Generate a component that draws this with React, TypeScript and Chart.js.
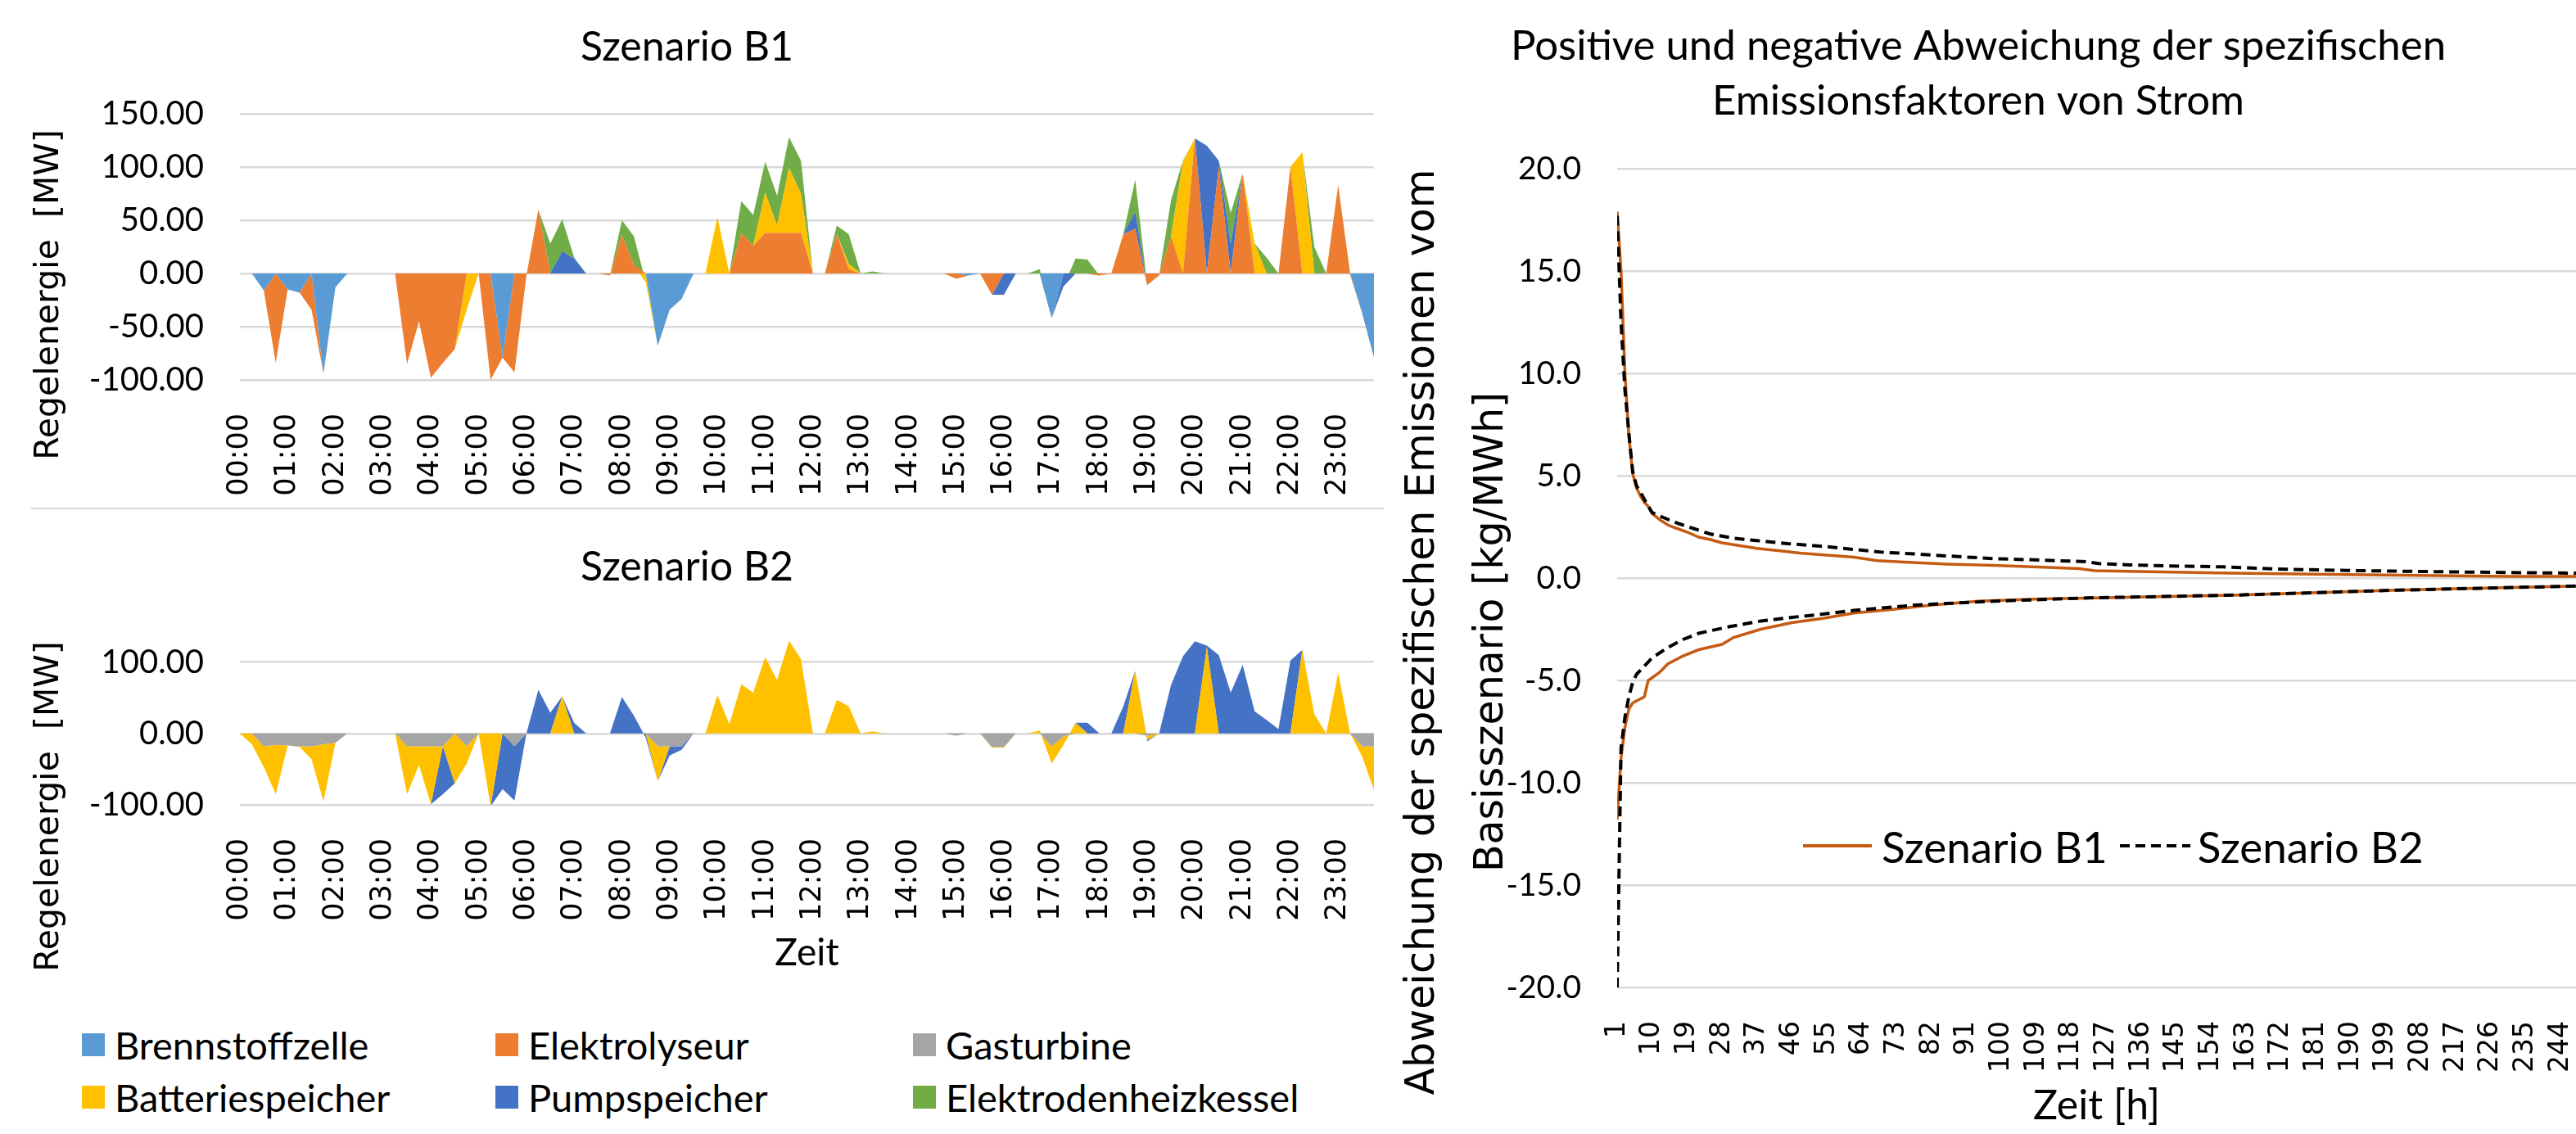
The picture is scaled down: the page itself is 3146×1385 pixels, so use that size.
import React, { useEffect, useRef } from 'react';
import { Chart, registerables } from 'chart.js';

Chart.register(...registerables);

const SANS = 'Lato, "Open Sans", Arial, sans-serif';
const WIDE = '"DejaVu Sans", Verdana, sans-serif';

// ---------- categories / ticks ----------
const timeLabels: string[] = Array.from({ length: 96 }, (_, i) =>
  `${String(Math.floor(i / 4)).padStart(2, '0')}:${String((i % 4) * 15).padStart(2, '0')}`
);
const b1YTicks = [-100, -50, 0, 50, 100, 150];
const b2YTicks = [-100, 0, 100];
const rightYTicks = [-20, -15, -10, -5, 0, 5, 10, 15, 20];
const rightXTicks = [1, 10, 19, 28, 37, 46, 55, 64, 73, 82, 91, 100, 109, 118, 127, 136, 145, 154, 163, 172, 181, 190, 199, 208, 217, 226, 235, 244];

// ---------- series names / colours ----------
const seriesNames = ['Brennstoffzelle', 'Elektrolyseur', 'Gasturbine', 'Batteriespeicher', 'Pumpspeicher', 'Elektrodenheizkessel'];
const seriesColors = ['#5B9BD5', '#ED7D31', '#A5A5A5', '#FFC000', '#4472C4', '#70AD47'];

// ---------- Szenario B1 (MW, 15-min steps) ----------
const b1Brennstoffzelle = [
  0, 0, -16, 0, -15, -18, 0, -94, -13, 0, 0, 0,
  0, 0, 0, 0, 0, 0, 0, 0, 0, 0, -79, 0,
  0, 0, 0, 0, 0, 0, 0, 0, 0, 0, 0, -68,
  -34, -24, 0, 0, 0, 0, 0, 0, 0, 0, 0, 0,
  0, 0, 0, 0, 0, 0, 0, 0, 0, 0, 0, 0,
  0, -2, 0, 0, 0, 0, 0, 0, -42, 0, 0, 0,
  0, 0, 0, 0, 0, 0, 0, 0, 0, 0, 0, 0,
  0, 0, 0, 0, 0, 0, 0, 0, 0, 0, -37, -79,
];
const b1Elektrolyseur = [
  0, 0, 0, -84, 0, 0, -34, 0, 0, 0, 0, 0,
  0, 0, -85, -45, -98, -84, -71, 0, 0, -100, 0, -93,
  -2, 60, 0, 0, 0, 0, 0, -2, 36, 8, 0, 0,
  0, 0, 0, 0, 0, 0, 38, 26, 38, 38, 38, 38,
  0, 0, 37, 4, 0, 0, 0, 0, 0, 0, 0, 0,
  -5, 0, 0, -20, 0, 0, 0, 0, 0, 0, 0, 0,
  -2, 0, 37, 42, -11, -2, 35, 0, 127, 0, 100, 0,
  94, 0, 0, 0, 100, 0, 0, 0, 83, 0, 0, 0,
];
const b1Gasturbine = [
  0, 0, 0, 0, 0, 0, 0, 0, 0, 0, 0, 0,
  0, 0, 0, 0, 0, 0, 0, 0, 0, 0, 0, 0,
  0, 0, 0, 0, 0, 0, 0, 0, 0, 0, 0, 0,
  0, 0, 0, 0, 0, 0, 0, 0, 0, 0, 0, 0,
  0, 0, 0, 0, 0, 0, 0, 0, 0, 0, 0, 0,
  0, 0, 0, 0, 0, 0, 0, 0, 0, 0, 0, 0,
  0, 0, 0, 0, 0, 0, 0, 0, 0, 0, 0, 0,
  0, 0, 0, 0, 0, 0, 0, 0, 0, 0, 0, 0,
];
const b1Batteriespeicher = [
  0, 0, 0, 0, 0, 0, 0, 0, 0, 0, 0, 0,
  0, 0, 0, 0, 0, 0, 0, -34, 0, 0, 0, 0,
  0, 0, 0, 0, 0, 0, 0, 0, 0, 0, -8, 0,
  0, 0, 0, 0, 53, 0, 0, 0, 38, 7, 61, 37,
  0, 0, 0, 5, 0, 0, 0, 0, 0, 0, 0, 0,
  0, 0, 0, 0, 0, 0, 0, 0, 0, 0, 0, 0,
  0, 0, 0, 0, 0, 0, 0, 105, 0, 0, 0, 0,
  0, 28, 0, 0, 0, 114, 0, 0, 0, -2, 0, 0,
];
const b1Pumpspeicher = [
  0, 0, 0, 0, 0, 0, 0, 0, 0, 0, 0, 0,
  0, 0, 0, 0, 0, 0, 0, 0, 0, 0, 0, 0,
  0, 0, 0, 21, 14, 0, 0, 0, 0, 0, 0, 0,
  0, 0, 0, 0, 0, 0, 0, 0, 0, 0, 0, 0,
  0, 0, 0, 0, 0, 0, 0, 0, 0, 0, 0, 0,
  0, 0, 0, 0, -20, 0, 0, 0, 0, -12, 0, 0,
  0, 0, 0, 16, 0, 0, 0, 0, 0, 120, 6, 28,
  0, 0, 0, 0, 0, 0, 0, 0, 0, 0, 0, 0,
];
const b1Elektrodenheizkessel = [
  0, 0, 0, 0, 0, 0, 0, 0, 0, 0, 0, 0,
  0, 0, 0, 0, 0, 0, 0, 0, 0, 0, 0, 0,
  0, 0, 28, 30, 1, 0, 0, 0, 14, 27, 0, 0,
  0, 0, 0, 0, 0, 0, 30, 29, 29, 28, 29, 31,
  0, 0, 8, 28, 0, 2, 0, 0, 0, 0, 0, 0,
  0, 0, 0, 0, 0, 0, 0, 4, 0, 0, 14, 13,
  0, 0, 0, 30, 0, 0, 34, 1, 0, 0, 0, 29,
  0, 0, 15, 0, 0, 0, 25, 0, 0, 0, 0, 0,
];

// ---------- Szenario B2 (MW, 15-min steps) ----------
const b2Gasturbine = [
  0, 0, -18, -16, -17, -18, -18, -15, -13, 0, 0, 0,
  0, 0, -18, -18, -18, -18, 0, -18, 0, 0, 0, -18,
  0, 0, 0, 0, 0, 0, 0, 0, 0, 0, 0, -18,
  -18, -18, 0, 0, 0, 0, 0, 0, 0, 0, 0, 0,
  0, 0, 0, 0, 0, 0, 0, 0, 0, 0, 0, 0,
  -3, 0, 0, -19, -19, 0, 0, 0, -18, -4, 0, 0,
  0, 0, 0, 0, -3, 0, 0, 0, 0, 0, 0, 0,
  0, 0, 0, 0, 0, 0, 0, 0, 0, 0, -18, -18,
];
const b2Batteriespeicher = [
  0, -15, -29, -69, 0, -1, -18, -80, 0, 0, 0, 0,
  0, 0, -67, -26, -81, 0, -70, -24, 0, -102, 0, 0,
  0, 0, 0, 52, 0, 0, 0, 0, 0, 0, 0, -49,
  0, 0, 0, 0, 54, 13, 69, 57, 107, 75, 130, 104,
  0, 0, 47, 38, 0, 3, 0, 0, 0, 0, 0, 0,
  0, 0, 0, -1, -1, 0, 0, 4, -24, -12, 15, 0,
  0, 0, 0, 88, -6, 0, 0, 0, 0, 121, 0, 0,
  0, 0, 0, 0, 0, 117, 27, 0, 85, 0, -14, -61,
];
const b2Pumpspeicher = [
  0, 0, 0, 0, 0, 0, 0, 0, 0, 0, 0, 0,
  0, 0, 0, 0, 0, -67, 0, 0, 0, 0, -78, -76,
  0, 61, 29, 0, 15, 0, 0, 0, 51, 25, -6, 0,
  -13, -5, 0, 0, 0, 0, 0, 0, 0, 0, 0, 0,
  0, 0, 0, 0, 0, 0, 0, 0, 0, 0, 0, 0,
  0, 0, 0, 0, 0, 0, 0, 0, 0, 0, 0, 15,
  0, 0, 38, 0, -2, 0, 68, 108, 129, 2, 110, 57,
  96, 31, 19, 6, 102, 0, 0, 0, 0, 0, 0, 0,
];

// ---------- right chart: sorted deviations (kg/MWh) ----------
const b1PosHours = [1, 2, 3, 4, 5, 6, 7, 8, 9, 10, 12, 14, 16, 19, 22, 25, 28, 32, 37, 43, 48, 55, 62, 68, 75, 86, 98, 112, 120, 124, 138, 159, 189, 231, 248];
const b1PosValues = [17.9, 15.0, 10.0, 7.0, 5.1, 4.4, 4.0, 3.7, 3.5, 3.15, 2.85, 2.6, 2.45, 2.25, 2.0, 1.88, 1.72, 1.6, 1.45, 1.33, 1.22, 1.12, 1.02, 0.85, 0.78, 0.68, 0.62, 0.52, 0.46, 0.36, 0.31, 0.24, 0.17, 0.08, 0.08];
const b2PosHours = [1, 2, 3, 4, 5, 6, 7, 8, 10, 13, 17, 21, 25, 31, 37, 45, 54, 62, 70, 78, 86, 98, 110, 122, 125, 133, 143, 157, 171, 189, 208, 231, 248];
const b2PosValues = [17.7, 12.5, 9.2, 7.1, 5.2, 4.5, 4.2, 3.85, 3.2, 2.95, 2.65, 2.4, 2.15, 1.95, 1.83, 1.68, 1.55, 1.4, 1.25, 1.18, 1.08, 0.95, 0.88, 0.8, 0.71, 0.64, 0.59, 0.55, 0.44, 0.37, 0.32, 0.27, 0.24];
const b1NegHours = [1, 2, 3, 4, 5, 6, 8, 9, 10, 12, 14, 18, 22, 28, 31, 38, 46, 54, 62, 72, 82, 94, 110, 122, 161, 202, 248];
const b1NegValues = [-11.8, -8.8, -7.3, -6.4, -6.1, -6.0, -5.8, -5.0, -4.87, -4.6, -4.2, -3.8, -3.5, -3.24, -2.9, -2.5, -2.18, -1.97, -1.71, -1.53, -1.32, -1.13, -1.02, -0.98, -0.83, -0.59, -0.39];
const b2NegHours = [1, 2, 3, 4, 5, 6, 7, 10, 14, 18, 22, 30, 38, 46, 54, 62, 70, 78, 86, 98, 110, 122, 161, 202, 248];
const b2NegValues = [-20.0, -8.3, -6.8, -5.8, -5.1, -4.7, -4.5, -3.9, -3.4, -3.0, -2.7, -2.37, -2.1, -1.92, -1.76, -1.58, -1.45, -1.32, -1.24, -1.13, -1.05, -0.97, -0.83, -0.59, -0.39];

// ---------- helpers ----------
const rotatedTitle = {
  id: 'rotatedTitle',
  afterDraw(chart: any, _args: any, opts: any) {
    if (!opts || !opts.lines) return;
    const ctx = chart.ctx;
    ctx.save();
    ctx.translate(opts.x, opts.y);
    ctx.rotate(-Math.PI / 2);
    ctx.font = `${opts.size}px ${WIDE}`;
    ctx.fillStyle = '#000';
    ctx.textAlign = 'center';
    ctx.textBaseline = 'middle';
    opts.lines.forEach((line: string, i: number) => ctx.fillText(line, 0, i * opts.lineHeight));
    ctx.restore();
  },
};

function areaSets(series: { name: string; color: string; data: number[] }[]) {
  return series.map((s, i) => ({
    label: s.name,
    data: s.data,
    backgroundColor: s.color,
    borderColor: s.color,
    borderWidth: 0,
    pointRadius: 0,
    pointHoverRadius: 0,
    tension: 0,
    fill: i === 0 ? 'origin' : '-1',
  }));
}

function areaConfig(title: string, series: any[], yTicks: number[], dims: any): any {
  return {
    type: 'line',
    data: { labels: timeLabels, datasets: areaSets(series) },
    plugins: [rotatedTitle],
    options: {
      animation: false,
      responsive: true,
      maintainAspectRatio: false,
      events: [],
      layout: { padding: { left: 0, right: dims.padRight, top: 0, bottom: 0 } },
      plugins: {
        legend: { display: false },
        tooltip: { enabled: false },
        title: {
          display: true,
          text: title,
          color: '#000',
          font: { family: SANS, size: 50, weight: 'normal', lineHeight: 1.2 },
          padding: { top: dims.titleTop, bottom: dims.titleBottom },
        },
        rotatedTitle: { lines: ['Regelenergie  [MW]'], x: 60, y: dims.yTitleY, size: 41, lineHeight: 0 },
      },
      scales: {
        x: {
          type: 'category',
          offset: false,
          grid: { display: false },
          border: { display: false },
          ticks: {
            autoSkip: false,
            minRotation: 90,
            maxRotation: 90,
            padding: 33,
            color: '#000',
            font: { family: WIDE, size: 35 },
            callback: (_v: any, i: number) => (i % 4 === 0 ? timeLabels[i] : ''),
          },
          title: dims.xTitle
            ? { display: true, text: 'Zeit', color: '#000', font: { family: SANS, size: 46 }, padding: { top: 0, bottom: 8 } }
            : { display: false },
          afterFit: (s: any) => { s.height = dims.xHeight; s.paddingLeft = 0; s.paddingRight = 0; },
        },
        y: {
          stacked: 'single',
          min: yTicks[0],
          max: 150,
          afterBuildTicks: (s: any) => { s.ticks = yTicks.map((v) => ({ value: v })); },
          grid: { color: '#d9d9d9', lineWidth: 2.5, drawTicks: false },
          border: { display: false },
          ticks: { padding: 44, color: '#000', font: { family: SANS, size: 40 }, callback: (v: any) => Number(v).toFixed(2) },
          afterFit: (s: any) => { s.width = 293; s.paddingTop = 0; s.paddingBottom = 0; },
        },
      },
    },
  };
}

function pts(hours: number[], vals: number[]) {
  return hours.map((h, i) => ({ x: h, y: vals[i] }));
}

function rightConfig(): any {
  const b2Style = { borderColor: '#000', borderWidth: 4, borderDash: [12, 7], pointRadius: 0, fill: false, tension: 0 };
  const b1Style = { borderColor: '#C55A11', borderWidth: 3.5, pointRadius: 0, fill: false, tension: 0 };
  return {
    type: 'line',
    data: {
      datasets: [
        { label: 'Szenario B2', data: pts(b2PosHours, b2PosValues), ...b2Style },
        { label: 'Szenario B2', data: pts(b2NegHours, b2NegValues), ...b2Style },
        { label: 'Szenario B1', data: pts(b1PosHours, b1PosValues), ...b1Style },
        { label: 'Szenario B1', data: pts(b1NegHours, b1NegValues), ...b1Style },
      ],
    },
    plugins: [rotatedTitle],
    options: {
      animation: false,
      responsive: true,
      maintainAspectRatio: false,
      events: [],
      layout: { padding: 0 },
      plugins: {
        legend: { display: false },
        tooltip: { enabled: false },
        title: {
          display: true,
          text: ['Positive und negative Abweichung der spezifischen', 'Emissionsfaktoren von Strom'],
          color: '#000',
          font: { family: SANS, size: 51, weight: 'normal', lineHeight: 1.314 },
          padding: { top: 23, bottom: 49 },
        },
        rotatedTitle: {
          lines: ['Abweichung der spezifischen Emissionen vom', 'Basisszenario [kg/MWh]'],
          x: 52, y: 772, size: 49, lineHeight: 84,
        },
      },
      scales: {
        x: {
          type: 'linear',
          min: 1,
          max: 248,
          offset: false,
          afterBuildTicks: (s: any) => { s.ticks = rightXTicks.map((v) => ({ value: v })); },
          grid: { display: false },
          border: { display: false },
          ticks: { autoSkip: false, minRotation: 90, maxRotation: 90, padding: 33, color: '#000', font: { family: WIDE, size: 33 }, callback: (v: any) => String(v) },
          title: { display: true, text: 'Zeit [h]', color: '#000', font: { family: SANS, size: 50 }, padding: { top: 0, bottom: 4 } },
          afterFit: (s: any) => { s.height = 179; s.paddingLeft = 0; s.paddingRight = 0; },
        },
        y: {
          min: -20,
          max: 20,
          afterBuildTicks: (s: any) => { s.ticks = rightYTicks.map((v) => ({ value: v })); },
          grid: { color: '#d9d9d9', lineWidth: 2.5, drawTicks: false },
          border: { display: false },
          ticks: { padding: 44, color: '#000', font: { family: SANS, size: 39 }, callback: (v: any) => Number(v).toFixed(1) },
          afterFit: (s: any) => { s.width = 289; s.paddingTop = 0; s.paddingBottom = 0; },
        },
      },
    },
  };
}

function ChartBox({ style, makeConfig }: { style: React.CSSProperties; makeConfig: () => any }) {
  const ref = useRef<HTMLCanvasElement>(null);
  useEffect(() => {
    const chart = new Chart(ref.current as HTMLCanvasElement, makeConfig());
    return () => chart.destroy();
  }, []);
  return (
    <div style={{ position: 'absolute', ...style }}>
      <canvas ref={ref} />
    </div>
  );
}

const b1Series = [
  { name: seriesNames[0], color: seriesColors[0], data: b1Brennstoffzelle },
  { name: seriesNames[1], color: seriesColors[1], data: b1Elektrolyseur },
  { name: seriesNames[2], color: seriesColors[2], data: b1Gasturbine },
  { name: seriesNames[3], color: seriesColors[3], data: b1Batteriespeicher },
  { name: seriesNames[4], color: seriesColors[4], data: b1Pumpspeicher },
  { name: seriesNames[5], color: seriesColors[5], data: b1Elektrodenheizkessel },
];
const b2Series = [
  { name: seriesNames[2], color: seriesColors[2], data: b2Gasturbine },
  { name: seriesNames[3], color: seriesColors[3], data: b2Batteriespeicher },
  { name: seriesNames[4], color: seriesColors[4], data: b2Pumpspeicher },
];

export default function App() {
  const legendOrder = [0, 1, 2, 3, 4, 5];
  return (
    <div style={{ position: 'absolute', left: 0, top: 0, width: 3146, height: 1385, background: '#fff', overflow: 'hidden', fontFamily: SANS }}>
      <ChartBox
        style={{ left: 0, top: 0, width: 1690, height: 620 }}
        makeConfig={() => areaConfig('Szenario B1', b1Series, b1YTicks, { padRight: 12, titleTop: 28, titleBottom: 51, xHeight: 156, yTitleY: 360, xTitle: false })}
      />
      <div style={{ position: 'absolute', left: 38, top: 620, width: 1652, height: 2, background: '#d9d9d9' }} />
      <ChartBox
        style={{ left: 0, top: 622, width: 1690, height: 578 }}
        makeConfig={() => areaConfig('Szenario B2', b2Series, b2YTicks, { padRight: 12, titleTop: 41, titleBottom: 42, xHeight: 217, yTitleY: 363, xTitle: true })}
      />
      <div
        style={{
          position: 'absolute', left: 100, top: 1244, display: 'grid',
          gridTemplateColumns: '505px 510px 520px', gridAutoRows: '64px', alignItems: 'center',
          fontSize: 47, color: '#000', lineHeight: 1,
        }}
      >
        {legendOrder.map((i) => (
          <div key={i} style={{ display: 'flex', alignItems: 'center' }}>
            <span style={{ display: 'inline-block', width: 28, height: 28, background: seriesColors[i], marginRight: 12 }} />
            <span>{seriesNames[i]}</span>
          </div>
        ))}
      </div>
      <ChartBox style={{ left: 1686, top: 0, width: 1460, height: 1385 }} makeConfig={rightConfig} />
      <div
        style={{
          position: 'absolute', left: 2202, top: 1001, height: 64, display: 'flex', alignItems: 'center',
          fontSize: 53, color: '#000', lineHeight: 1, whiteSpace: 'nowrap',
        }}
      >
        <span style={{ display: 'inline-block', width: 84, height: 4, background: '#C55A11' }} />
        <span style={{ marginLeft: 12 }}>Szenario B1</span>
        <span
          style={{
            display: 'inline-block', width: 86, height: 4, marginLeft: 15,
            background: 'repeating-linear-gradient(to right, #000 0 12px, transparent 12px 19px)',
          }}
        />
        <span style={{ marginLeft: 9 }}>Szenario B2</span>
      </div>
    </div>
  );
}
